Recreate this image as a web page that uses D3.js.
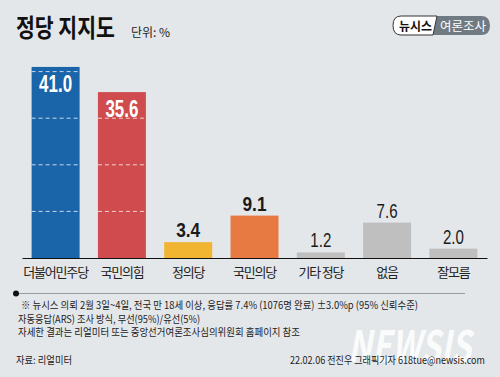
<!DOCTYPE html>
<html>
<head>
<meta charset="utf-8">
<script src="https://cdn.jsdelivr.net/npm/d3@7"></script>
<style>
  body { margin: 0; background: #e4e7ea; }
  svg { display: block; }
  text { font-family: "Noto Sans CJK KR", "Noto Sans", sans-serif; }
  .num { font-family: "Liberation Sans", "Roboto", sans-serif; }
</style>
</head>
<body>
<svg id="chart" width="500" height="377"></svg>
<script>
const parties = ["더불어민주당", "국민의힘", "정의당", "국민의당", "기타 정당", "없음", "잘모름"];
const support = [41.0, 35.6, 3.4, 9.1, 1.2, 7.6, 2.0];
const barColors = ["#1a64aa", "#cf4b4d", "#f1b532", "#e77a43", "#bfbfbf", "#bfbfbf", "#bfbfbf"];
const gridTicks = [10, 20, 30, 40];
const notes = [
  "※ 뉴시스 의뢰 2월 3일~4일, 전국 만 18세 이상, 응답률 7.4% (1076명 완료) ±3.0%p (95% 신뢰수준)",
  "자동응답(ARS) 조사 방식, 무선(95%)/유선(5%)",
  "자세한 결과는 리얼미터 또는 중앙선거여론조사심의위원회 홈페이지 참조"
];

const data = parties.map((p, i) => ({ name: p, value: support[i], color: barColors[i], strong: i < 4 }));

const svg = d3.select("#chart");

svg.append("rect").attr("width", 500).attr("height", 377).attr("fill", "#e4e7ea");

// 워터마크 (맨 뒤에)
svg.append("text")
  .attr("transform", "translate(348,362) scale(1,1.35)")
  .attr("font-family", "'Liberation Sans', sans-serif")
  .attr("font-size", 32).attr("font-weight", 700).attr("font-style", "italic")
  .attr("fill", "#fff").attr("fill-opacity", 0.85)
  .text("NEWSIS");

// 제목 (가로로 눌러서 좁은 글꼴처럼)
svg.append("text")
  .attr("transform", "translate(16,37) scale(0.82,1)")
  .attr("font-size", 25).attr("font-weight", 700)
  .attr("fill", "#111")
  .text("정당 지지도");
svg.append("text")
  .attr("x", 131).attr("y", 37)
  .attr("font-size", 12).attr("fill", "#222")
  .text("단위: %");

// 로고
const logo = svg.append("g");
logo.append("path")
  .attr("d", "M437,16 L481,16 Q490,16 490,25.5 Q490,35 481,35 L433,35 Z")
  .attr("fill", "#6f7a83");
logo.append("path")
  .attr("d", "M437,16 L401,16 Q393,16 393,25.5 Q393,35 401,35 L433,35 Z")
  .attr("fill", "#fff").attr("stroke", "#333").attr("stroke-width", 1);
logo.append("text").attr("x", 399).attr("y", 30.5)
  .attr("font-size", 12.5).attr("font-weight", 700).attr("fill", "#111")
  .attr("textLength", 33).attr("lengthAdjust", "spacingAndGlyphs")
  .text("뉴시스");
logo.append("text").attr("x", 440).attr("y", 30.5)
  .attr("font-size", 12.5).attr("fill", "#fff")
  .attr("textLength", 46).attr("lengthAdjust", "spacingAndGlyphs")
  .text("여론조사");

// 스케일
const x = d3.scaleBand()
  .domain(parties)
  .range([22, 487])
  .paddingInner(0.276)
  .paddingOuter(0.145);

const y = d3.scaleLinear()
  .domain([0, 40])
  .range([258, 71.6]);

// 막대
svg.append("g")
  .selectAll("rect")
  .data(data)
  .enter()
  .append("rect")
  .attr("x", (d) => x(d.name))
  .attr("y", (d) => y(d.value))
  .attr("width", x.bandwidth())
  .attr("height", (d) => y(0) - y(d.value))
  .attr("fill", (d) => d.color);

// 막대 안 점선
const dashes = [];
data.forEach((d) => {
  gridTicks.forEach((t) => {
    if (d.value > t) dashes.push({ name: d.name, t: t });
  });
});
svg.append("g")
  .selectAll("line")
  .data(dashes)
  .enter()
  .append("line")
  .attr("x1", (d) => x(d.name))
  .attr("x2", (d) => x(d.name) + x.bandwidth())
  .attr("y1", (d) => y(d.t))
  .attr("y2", (d) => y(d.t))
  .attr("stroke", "#fff")
  .attr("stroke-opacity", 0.75)
  .attr("stroke-width", 1)
  .attr("stroke-dasharray", "4,3");

// 축선
const axis = d3.axisBottom(x).tickSize(0).tickPadding(10);
const gx = svg.append("g")
  .attr("transform", `translate(0,${y(0)})`)
  .call(axis);
gx.select(".domain").attr("stroke", "#111").attr("stroke-width", 1.2);
gx.selectAll("text")
  .attr("font-family", "'Noto Sans CJK KR', sans-serif")
  .attr("font-size", 13)
  .attr("fill", "#222")
  .attr("letter-spacing", -1.2);

// 값 라벨
svg.append("g")
  .selectAll("text")
  .data(data)
  .enter()
  .append("text")
  .attr("class", "num")
  .attr("text-anchor", "middle")
  .attr("x", (d) => x(d.name) + x.bandwidth() / 2)
  .attr("y", (d) => (d.value > 30 ? y(d.value) + 25 : y(d.value) - 5))
  .attr("font-size", (d) => (d.value > 30 ? 24 : 21))
  .attr("font-weight", (d) => (d.strong ? 700 : 400))
  .attr("fill", (d) => (d.value > 30 ? "#fff" : "#1a1a1a"))
  .attr("textLength", (d) => (d.value >= 10 ? 33 : d.strong ? 24 : 21))
  .attr("lengthAdjust", "spacingAndGlyphs")
  .text((d) => d.value.toFixed(1));

// 하단 구분선
svg.append("line")
  .attr("x1", 16).attr("x2", 465)
  .attr("y1", 293.5).attr("y2", 293.5)
  .attr("stroke", "#9a9da0").attr("stroke-width", 1);
svg.append("circle").attr("cx", 16).attr("cy", 293.5).attr("r", 3).attr("fill", "#111");

// 주석
const noteWidths = [397, 182, 282];
const noteX = [21, 18, 18];
svg.append("g")
  .selectAll("text")
  .data(notes)
  .enter()
  .append("text")
  .attr("x", (d, i) => noteX[i])
  .attr("y", (d, i) => 309 + i * 13.5)
  .attr("font-size", 10.5)
  .attr("fill", "#222")
  .attr("textLength", (d, i) => noteWidths[i])
  .attr("lengthAdjust", "spacingAndGlyphs")
  .text((d) => d);

svg.append("text")
  .attr("x", 16).attr("y", 364)
  .attr("font-size", 10.5).attr("fill", "#222")
  .attr("textLength", 56).attr("lengthAdjust", "spacingAndGlyphs")
  .text("자료: 리얼미터");
svg.append("text")
  .attr("x", 485).attr("y", 364)
  .attr("text-anchor", "end")
  .attr("font-size", 10.5).attr("fill", "#222")
  .attr("textLength", 195).attr("lengthAdjust", "spacingAndGlyphs")
  .text("22.02.06 전진우 그래픽기자 618tue@newsis.com");
</script>
</body>
</html>
